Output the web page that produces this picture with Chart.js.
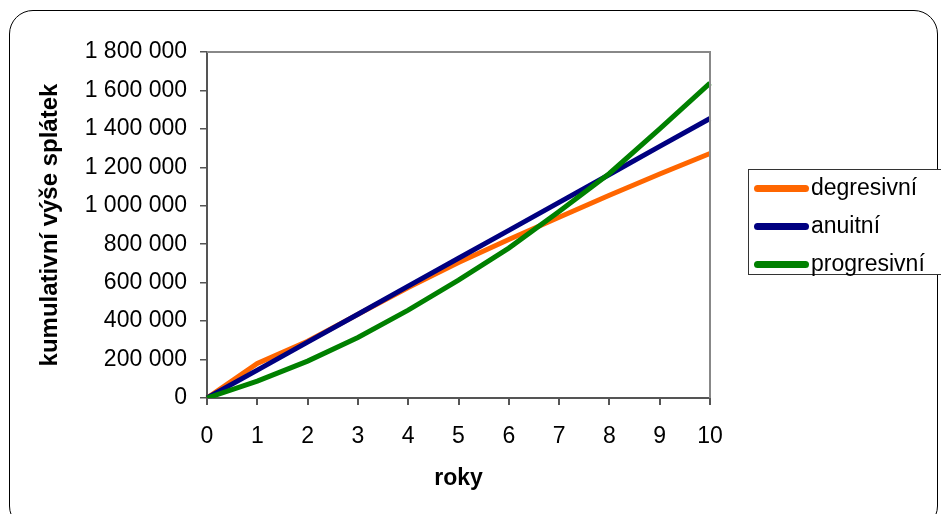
<!DOCTYPE html>
<html lang="cs">
<head>
  <meta charset="UTF-8" />
  <title>Kumulativní výše splátek</title>
  <script src="https://cdn.jsdelivr.net/npm/chart.js"></script>
  <style>
    body { margin: 0; width: 941px; height: 514px; overflow: hidden; background: #fff; position: relative; font-family: "Liberation Sans", Arial, sans-serif; }
    #chart { position: absolute; left: 0; top: 0; }
    .frame { position: absolute; left: 9px; top: 10px; width: 929px; height: 520px; border: 1.5px solid #000; border-radius: 24px; box-sizing: border-box; pointer-events: none; }
    .legend { position: absolute; left: 748px; top: 169px; width: 210px; height: 106px; border: 1px solid #333; box-sizing: border-box; background: #fff; }
    .legend div { position: absolute; left: 0; height: 30px; line-height: 30px; font-size: 23px; color: #000; white-space: nowrap; }
    .legend span { display: inline-block; width: 55px; height: 7px; border-radius: 4px; margin: 0 2px 0 5px; vertical-align: middle; }
  </style>
</head>
<body>
  <canvas id="chart" width="941" height="514"></canvas>
  <div class="frame"></div>
  <div class="legend" id="legend"></div>

  <script>
    // roky
    const years = ["0", "1", "2", "3", "4", "5", "6", "7", "8", "9", "10"];
    // kumulativni splatky (odhad z obrazku)
    const degresivni = [0, 180000, 295000, 435000, 575000, 705000, 825000, 940000, 1055000, 1165000, 1272000];
    const anuitni = [0, 145000, 291000, 436000, 582000, 727000, 872000, 1018000, 1163000, 1309000, 1454000];
    const progresivni = [0, 88000, 192000, 315000, 457000, 613000, 780000, 970000, 1168000, 1400000, 1638000];
    const yTicks = [0, 200000, 400000, 600000, 800000, 1000000, 1200000, 1400000, 1600000, 1800000];

    const seriesNames = ["degresivní", "anuitní", "progresivní"];
    const seriesColors = ["#FF6600", "#000080", "#008000"];

    const fontFamily = '"Liberation Sans", Arial, sans-serif';
    const fmt = v => String(v).replace(/\B(?=(\d{3})+(?!\d))/g, " ");

    // sedy ramecek plochy grafu (horni a prava strana)
    const plotFrame = {
      id: "plotFrame",
      afterDatasetsDraw(chart) {
        const { ctx, chartArea: a } = chart;
        ctx.save();
        ctx.strokeStyle = "#888";
        ctx.lineWidth = 2;
        ctx.beginPath();
        ctx.moveTo(a.left, a.top);
        ctx.lineTo(a.right, a.top);
        ctx.lineTo(a.right, a.bottom);
        ctx.stroke();
        ctx.restore();
      }
    };

    const data = [degresivni, anuitni, progresivni];
    const ctx = document.getElementById("chart").getContext("2d");
    new Chart(ctx, {
      type: "line",
      data: {
        labels: years,
        datasets: data.map((d, i) => ({
          label: seriesNames[i],
          data: d,
          borderColor: seriesColors[i],
          backgroundColor: seriesColors[i],
          borderWidth: 5,
          pointRadius: 0,
          tension: 0,
          order: 3 - i
        }))
      },
      options: {
        responsive: false,
        animation: false,
        layout: { padding: { left: 0, top: 52, right: 231, bottom: 0 } },
        plugins: { legend: { display: false }, tooltip: { enabled: false } },
        scales: {
          x: {
            offset: false,
            grid: { drawOnChartArea: false, tickLength: 7, color: "#555", lineWidth: 2 },
            border: { display: true, color: "#555", width: 2 },
            ticks: { color: "#000", padding: 18, font: { family: fontFamily, size: 23 }, maxRotation: 0 },
            title: { display: true, text: "roky", color: "#000", padding: { top: 0, bottom: 22 }, font: { family: fontFamily, size: 23, weight: "bold" } },
            afterFit(scale) { scale.height = 116; }
          },
          y: {
            min: 0,
            max: 1800000,
            afterBuildTicks(scale) { scale.ticks = yTicks.map(v => ({ value: v })); },
            grid: { drawOnChartArea: false, tickLength: 7, color: "#555", lineWidth: 1.5 },
            border: { display: true, color: "#555", width: 2 },
            ticks: { color: "#000", padding: 13, font: { family: fontFamily, size: 23 }, callback: v => fmt(v) },
            title: { display: true, text: "kumulativní výše splátek", color: "#000", padding: { top: 36, bottom: 0 }, font: { family: fontFamily, size: 24, weight: "bold" } },
            afterFit(scale) { scale.width = 207; }
          }
        }
      },
      plugins: [plotFrame]
    });

    // legenda
    const legend = document.getElementById("legend");
    seriesNames.forEach((name, i) => {
      const row = document.createElement("div");
      row.style.top = (2 + i * 38) + "px";
      row.innerHTML = `<span style="background:${seriesColors[i]}"></span>${name}`;
      legend.appendChild(row);
    });
  </script>
</body>
</html>
